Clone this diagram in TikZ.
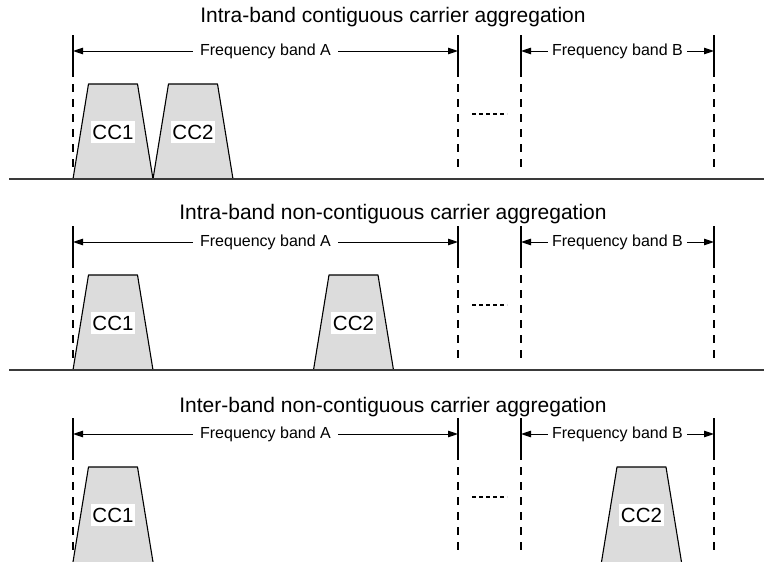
\documentclass[tikz,border=0pt]{standalone}
\usepackage{fontspec}
\setmainfont{Liberation Sans}
\usetikzlibrary{arrows.meta}
\definecolor{ccgray}{HTML}{DCDCDC}
\definecolor{axisgray}{HTML}{3A3A3A}

\begin{document}
\begin{tikzpicture}[x=1pt,y=-1pt,
    vline/.style={line width=1.1pt},
    vdash/.style={line width=1.1pt,dash pattern=on 8pt off 7pt},
    band/.style={line width=1pt,-{Triangle[length=10pt,width=6.5pt]}},
    bandlbl/.style={fill=white,inner ysep=1pt,font=\fontsize{16}{18}\selectfont},
    cclbl/.style={fill=white,inner xsep=1.5pt,inner ysep=3.5pt,text height=15pt,text depth=0pt,font=\fontsize{20.5}{22}\selectfont},
    carrier/.style={fill=ccgray},
    outline/.style={line width=1.1pt,line join=round},
    dots/.style={line width=1.6pt,dash pattern=on 4pt off 3pt},
    axis/.style={line width=1.6pt,axisgray},
    paneltitle/.style={anchor=base,font=\fontsize{21}{23}\selectfont}]
  \useasboundingbox (0,0) rectangle (764,562);
  \foreach \py/\tb/\ttl/\cx [count=\i] in {0/23/Intra-band contiguous/193,
      191/219/Intra-band non-contiguous/353.5,
      383/412/Inter-band non-contiguous/641.5}{
    \node[paneltitle] (title\i) at (393,\tb) {\ttl\ carrier aggregation};
    % band edges
    \foreach \vx in {73,458,521,714}{
      \draw[vline] (\vx,\py+35) -- (\vx,\py+77);
      \draw[vdash] (\vx,\py+84) -- (\vx,\py+172);
    }
    \coordinate (a\i) at (73,\py+51);
    \coordinate (b\i) at (458,\py+51);
    \coordinate (c\i) at (521,\py+51);
    \coordinate (d\i) at (714,\py+51);
    \node[bandlbl,inner xsep=7pt] (fa\i) at (265.5,\py+51) {Frequency band A};
    \node[bandlbl,inner xsep=4pt] (fb\i) at (617.5,\py+51) {Frequency band B};
    \draw[band] (fa\i) -- (a\i);
    \draw[band] (fa\i) -- (b\i);
    \draw[band] (fb\i) -- (c\i);
    \draw[band] (fb\i) -- (d\i);
    % component carriers
    \fill[carrier] (73,\py+179) -- (88.5,\py+84) -- (137.5,\py+84) -- (153,\py+179) -- cycle;
    \draw[outline] (73,\py+179) -- (88.5,\py+84) -- (137.5,\py+84) -- (153,\py+179);
    \fill[carrier] ({\cx-40},\py+179) -- ({\cx-24.5},\py+84) -- ({\cx+24.5},\py+84) -- ({\cx+40},\py+179) -- cycle;
    \draw[outline] ({\cx-40},\py+179) -- ({\cx-24.5},\py+84) -- ({\cx+24.5},\py+84) -- ({\cx+40},\py+179);
    \node[cclbl] (cca\i) at (113,\py+132) {CC1};
    \node[cclbl] (ccb\i) at (\cx,\py+132) {CC2};
    \draw[dots] (472,\py+114) -- (507,\py+114);
  }
  \draw[axis] (9,179) -- (764,179);
  \draw[axis] (9,370) -- (764,370);
\end{tikzpicture}
\end{document}
